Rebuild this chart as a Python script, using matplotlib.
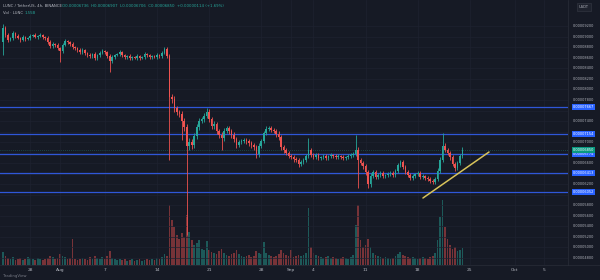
import numpy as np
import pandas as pd
import matplotlib
matplotlib.use('Agg')
import matplotlib.pyplot as plt

# 8h candles, LUNC/USDT, prices in units of 1e-8 USDT
start = pd.Timestamp('2023-07-24 08:00')
first_open = 8900
close = [9168, 9035, 8940, 8978, 9073, 9016, 8978, 8940, 8997, 8959, 8978, 9016, 9035, 8997, 9016, 9035, 8997, 8978, 8902, 8826,
         8864, 8845, 8788, 8731, 8845, 8921, 8902, 8864, 8807, 8788, 8750, 8712, 8750, 8693, 8655, 8636, 8674, 8598, 8655, 8693,
         8731, 8712, 8636, 8541, 8617, 8655, 8674, 8712, 8655, 8617, 8636, 8598, 8617, 8598, 8636, 8598, 8617, 8674, 8655, 8617,
         8636, 8617, 8655, 8636, 8693, 8769, 8636, 7857, 7819, 7648, 7572, 7534, 7401, 7287, 6926, 7002, 6945, 7116, 7287, 7401,
         7439, 7496, 7572, 7439, 7306, 7344, 7211, 7135, 7078, 7211, 7268, 7211, 7135, 7059, 6945, 7002, 7021, 7040, 7021, 6983,
         6945, 6907, 6774, 6926, 7021, 7173, 7249, 7268, 7230, 7211, 7154, 7097, 6907, 6850, 6793, 6736, 6717, 6679, 6660, 6584,
         6622, 6660, 6736, 6850, 6755, 6717, 6755, 6698, 6717, 6736, 6698, 6736, 6755, 6736, 6717, 6736, 6717, 6698, 6717, 6736,
         6755, 6774, 6850, 6660, 6603, 6546, 6432, 6204, 6356, 6432, 6337, 6375, 6413, 6356, 6375, 6394, 6413, 6375, 6451, 6565,
         6622, 6527, 6432, 6375, 6318, 6356, 6394, 6413, 6337, 6356, 6318, 6299, 6261, 6242, 6299, 6451, 6660, 6926, 6850, 6793,
         6717, 6584, 6508, 6603, 6736, 6850]
up_wick = [76, 40, 30, 25, 35, 20, 30, 25, 40, 20, 25, 30, 20, 35, 25, 30, 20, 25, 30, 40,
           35, 20, 30, 25, 40, 30, 20, 25, 30, 20, 25, 30, 35, 20, 25, 30, 20, 40, 25, 30,
           40, 25, 20, 30, 35, 25, 20, 30, 25, 20, 25, 30, 20, 25, 30, 20, 25, 30, 20, 25,
           20, 25, 30, 20, 35, 38, 30, 40, 60, 50, 45, 40, 55, 50, 60, 70, 50, 60, 55, 50,
           45, 50, 76, 60, 45, 50, 40, 45, 50, 55, 40, 45, 40, 50, 45, 40, 35, 40, 45, 35,
           40, 35, 45, 50, 40, 45, 50, 40, 35, 40, 45, 50, 40, 35, 30, 35, 40, 30, 35, 40,
           30, 35, 40, 228, 40, 30, 35, 30, 25, 30, 35, 25, 30, 25, 30, 35, 25, 30, 25, 30,
           30, 35, 285, 60, 40, 35, 40, 45, 50, 40, 35, 30, 35, 30, 25, 30, 35, 30, 40, 45,
           38, 40, 35, 30, 35, 30, 25, 30, 35, 30, 25, 30, 35, 30, 40, 50, 60, 247, 50, 40,
           45, 40, 35, 40, 45, 57]
dn_wick = [245, 30, 40, 25, 30, 35, 25, 30, 20, 35, 25, 30, 25, 20, 30, 25, 35, 30, 40, 45,
           30, 35, 40, 209, 30, 25, 30, 35, 40, 30, 35, 40, 30, 35, 40, 45, 30, 38, 35, 30,
           25, 30, 40, 209, 35, 30, 25, 30, 35, 40, 30, 35, 30, 25, 35, 30, 25, 30, 35, 30,
           30, 25, 30, 35, 30, 25, 40, 1197, 80, 70, 60, 55, 361, 70, 1691, 80, 70, 60, 55, 50,
           45, 50, 40, 55, 60, 50, 55, 60, 228, 50, 45, 50, 55, 60, 50, 45, 40, 45, 50, 55,
           50, 55, 70, 50, 40, 45, 40, 35, 40, 45, 50, 55, 60, 50, 45, 40, 45, 50, 45, 60,
           45, 40, 35, 40, 45, 40, 35, 40, 35, 30, 35, 40, 30, 35, 30, 35, 40, 30, 35, 30,
           35, 30, 40, 532, 45, 50, 60, 76, 50, 45, 40, 35, 40, 35, 30, 35, 40, 35, 30, 35,
           40, 35, 45, 40, 45, 35, 30, 35, 40, 35, 30, 35, 40, 45, 40, 30, 35, 40, 45, 40,
           50, 45, 60, 40, 35, 30]
# volume, millions of LUNC
volume = [130, 90, 70, 60, 80, 50, 60, 70, 50, 60, 80, 70, 60, 50, 70, 60, 50, 60, 70, 90,
          80, 60, 70, 110, 90, 80, 60, 70, 260, 60, 50, 60, 70, 60, 50, 80, 60, 90, 70, 60,
          80, 60, 90, 140, 70, 60, 50, 60, 50, 60, 40, 50, 60, 40, 50, 60, 40, 50, 60, 50,
          60, 50, 70, 60, 80, 110, 90, 600, 450, 380, 300, 260, 320, 280, 500, 330, 250, 200, 220, 250,
          160, 150, 240, 150, 130, 120, 110, 140, 160, 120, 100, 90, 110, 120, 150, 110, 90, 80, 90, 100,
          80, 90, 140, 120, 110, 230, 120, 100, 90, 80, 90, 110, 150, 120, 100, 90, 150, 80, 90, 100,
          90, 100, 120, 570, 180, 120, 100, 90, 80, 70, 80, 90, 70, 80, 70, 60, 70, 80, 70, 60,
          80, 100, 400, 600, 250, 180, 200, 260, 180, 120, 100, 90, 80, 70, 80, 70, 60, 70, 90, 110,
          130, 100, 90, 80, 70, 80, 70, 60, 70, 80, 70, 60, 80, 90, 120, 250, 480, 650, 380, 260,
          200, 160, 180, 140, 150, 170]

levels = [7667, 7154, 6774, 6413, 6052]
trend_start = (169.1, 5938)
trend_end = (195.7, 6812)
date_ticks = ['2023-07-28', '2023-08-01', '2023-08-07', '2023-08-14', '2023-08-21', '2023-08-28', '2023-09-01',
              '2023-09-04', '2023-09-11', '2023-09-18', '2023-09-25', '2023-10-01', '2023-10-05']
date_labels = ['28', 'Aug', '7', '14', '21', '28', 'Sep', '4', '11', '18', '25', 'Oct', '5']

BG = '#161a25'
UP = '#26a69a'
DOWN = '#ef5350'
BLUE = '#2962ff'
TXT = '#b2b5be'
GRID = '#1e2230'

S = 1e-8
close = np.array(close) * S
opens = np.concatenate([[first_open * S], close[:-1]])
highs = np.maximum(opens, close) + np.array(up_wick) * S
lows = np.minimum(opens, close) - np.array(dn_wick) * S
idx = np.arange(len(close))
col = np.where(close >= opens, UP, DOWN)

fig = plt.figure(figsize=(6, 2.8), dpi=100, facecolor=BG)
ax = fig.add_axes([0, 15 / 280, 568 / 600, 265 / 280])
axv = ax.twinx()
ax.set_zorder(axv.get_zorder() + 1)
ax.patch.set_visible(False)
axv.set_facecolor(BG)

# volume
axv.bar(idx, volume, width=0.7, color=col, alpha=0.45, lw=0)
axv.set_ylim(0, 2650)
axv.axis('off')

# grid
yt = np.arange(4800, 9300, 200) * S
for v in yt:
    ax.axhline(v, color=GRID, lw=0.5, zorder=0)
tick_pos = [(pd.Timestamp(d) - start) / pd.Timedelta('8h') for d in date_ticks]
for p in tick_pos:
    ax.axvline(p, color=GRID, lw=0.5, zorder=0)

# levels
for lv in levels:
    ax.axhline(lv * S, color='#2f57d8', lw=0.9, zorder=1)

# candles
ax.vlines(idx, lows, highs, colors=col, lw=0.6, zorder=2)
body = np.maximum(np.abs(close - opens), 12 * S)
ax.bar(idx, body, bottom=np.minimum(opens, close), width=0.65, color=col, lw=0, zorder=3)

# current price line
ax.axhline(close[-1], color=UP, lw=0.5, ls=(0, (1, 2)), alpha=0.6, zorder=1)

# trend line
ax.plot([trend_start[0], trend_end[0]], [trend_start[1] * S, trend_end[1] * S],
        color='#d8c35a', lw=1.1, zorder=4, solid_capstyle='round')

ax.set_xlim(-1.2, 227.5)
ax.set_ylim(4665 * S, 9700 * S)
for s in ax.spines.values():
    s.set_visible(False)
ax.set_yticks([])
ax.set_xticks(tick_pos)
ax.set_xticklabels(date_labels, color=TXT, fontsize=3.2)
ax.tick_params(axis='x', length=0, pad=2)

# price scale
tr = ax.get_yaxis_transform()
boxes = [(lv * S, BLUE) for lv in levels] + [(close[-1], '#089981')]
for v in yt:
    if min(abs(v - b[0]) for b in boxes) < 100 * S:
        continue
    ax.text(1.008, v, f'{v:.8f}', transform=tr, ha='left', va='center',
            fontsize=2.5, color=TXT, clip_on=False)
for v, fc in boxes:
    ax.text(1.008, v, f'{v:.8f}', transform=tr, ha='left', va='center', fontsize=2.5,
            color='white', clip_on=False,
            bbox=dict(boxstyle='square,pad=0.3', fc=fc, ec='none'))
fig.add_artist(plt.Line2D([568 / 600, 568 / 600], [15 / 280, 1], color='#2a2e39', lw=0.5))
fig.add_artist(plt.Line2D([0, 1], [15 / 280, 15 / 280], color='#2a2e39', lw=0.5))

# header
o, h, l, c = opens[-1], highs[-1], lows[-1], close[-1]
chg = c - o
fig.text(3 / 600, 1 - 6 / 280, 'LUNC / TetherUS, 4h, BINANCE', fontsize=2.8, color=TXT, va='center')
fig.text(62 / 600, 1 - 6 / 280,
         f'O{o:.8f}  H{h:.8f}  L{l:.8f}  C{c:.8f}  {chg:+.8f} ({chg / o * 100:+.2f}%)',
         fontsize=2.8, color=UP, va='center')
fig.text(3 / 600, 1 - 13 / 280, 'Vol · LUNC', fontsize=2.8, color=TXT, va='center')
fig.text(25 / 600, 1 - 13 / 280, '1.55B', fontsize=2.8, color=UP, va='center')
fig.text(584 / 600, 1 - 7 / 280, 'USDT', fontsize=2.6, color=TXT, va='center', ha='center',
         bbox=dict(boxstyle='square,pad=0.5', fc='#1e222d', ec='#363a45', lw=0.4))
fig.text(3 / 600, 2 / 280, 'TradingView', fontsize=2.8, color='#787b86', va='bottom')

fig.savefig('out.png', dpi=100, facecolor=BG)
